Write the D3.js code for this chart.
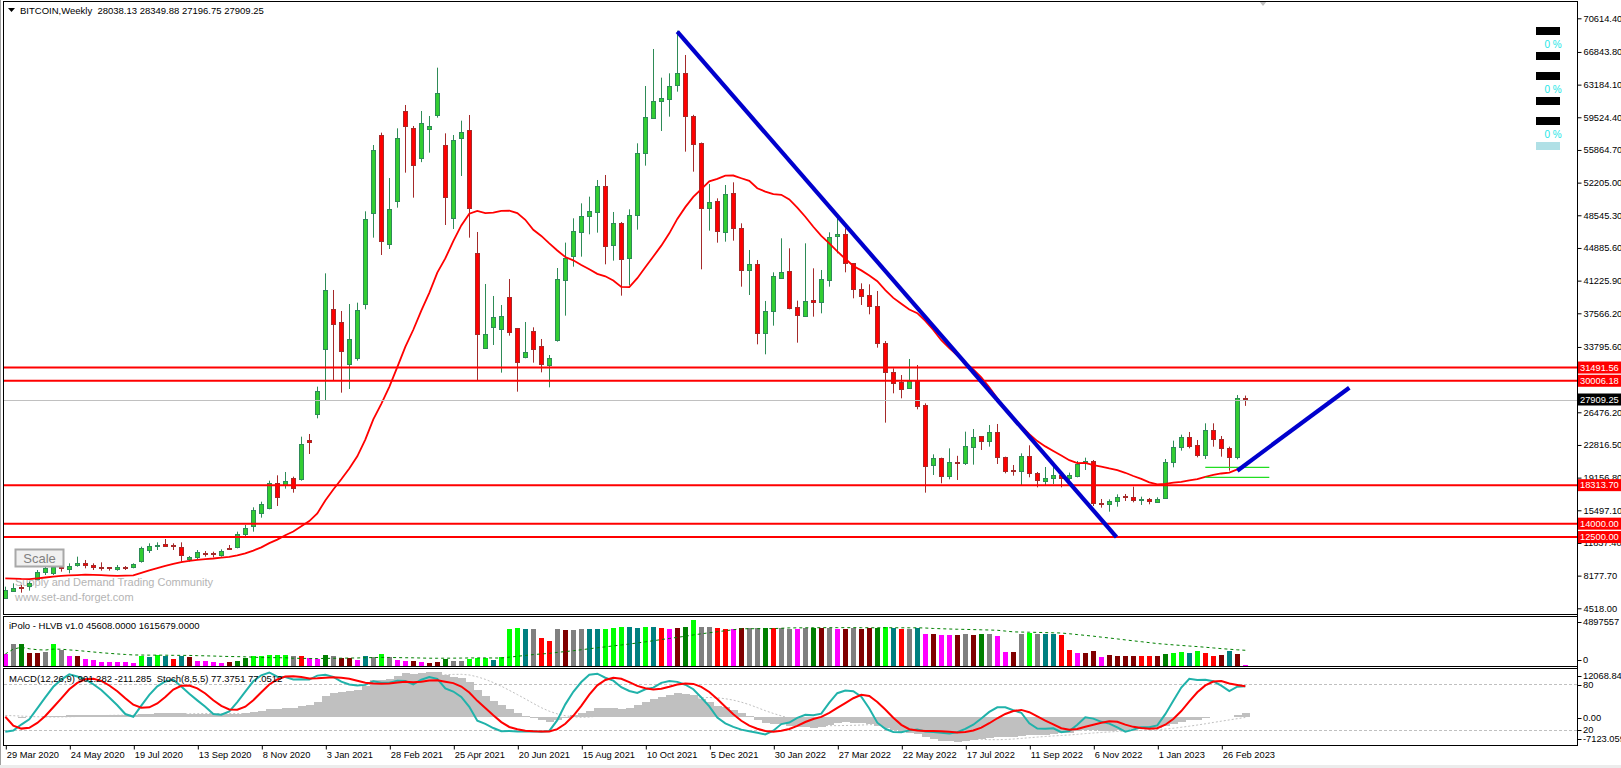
<!DOCTYPE html>
<html><head><meta charset="utf-8"><title>BITCOIN Weekly</title>
<script src="https://cdn.jsdelivr.net/npm/d3@7/dist/d3.min.js"></script>
<style>html,body{margin:0;padding:0;background:#fff;overflow:hidden}svg{display:block}</style>
</head><body>
<svg id="chart" width="1621" height="768" xmlns="http://www.w3.org/2000/svg"></svg>
<script>
// ---------------- DATA (weekly bars from 29 Mar 2020) ----------------
const opens = [5634,6531,6950,6941,7875,8622,8510,9100,8920,9300, 9555,9350,9200,9100,8920,9150,9070,9742,11049,11550,
 11680,11600,11423,10115,10228,10750,10700,10489,11300,11348, 12916,13738,15232,15718,18518,18332,19078,18966,23400,26248,
 33530,38011,36555,31850,32522,38571,48841,57541,45293,50073, 60230,58288,54928,58176,59708,56421,48206,57168,58102,44322,
 33642,35995,35845,39393,35920,32634,35584,33904,31700,34501, 41372,43911,46712,48393,48953,51828,45144,47683,43725,48542,
 55488,59483,61276,61612,63106,64450,59670,56608,49289,50147, 46712,51007,47086,42343,43090,35323,37750,41597,42306,38273,
 37302,39020,38796,41372,46152,46414,43165,40253,39580,38385, 34202,30991,29908,29161,29982,27293,20497,21318,19339,20950,
 20834,22626,23784,23187,24232,21431,20000,19826,21581,19639, 18817,19041,19452,19153,19377,20834,20983,16278,16203,16502,
 17100,16950,16577,16726,16502,16838,20871,22552,23672,22776, 21618,24456,23485,22439,21394,28038.13];
const highs = [6941,7315,7128,7502,8809,9369,9369,9182,9555,10302, 9929,9555,9667,9107,9369,9257,9555,11423,11796,11908,
 12281,11796,11908,10377,11049,10937,10862,11124,11609,13103, 13850,15830,16465,18817,19415,19788,19265,23746,24045,29347,
 42044,40177,37824,38608,38758,48990,56421,57803,52724,58288, 60902,58550,60230,59670,65085,57728,57541,59147,59782,46675,
 40849,39505,38497,41409,35920,36592,35995,34688,32895,42641, 45484,48206,49886,50633,52500,53060,48916,47795,49214,56608,
 63031,67176,63965,64450,69230,66504,59800,56700,52052,50446, 51940,52239,47646,44658,43538,38946,42157,45966,44845,38983,
 45405,42604,42418,46638,48206,47086,43165,40924,40812,40066, 34463,31401,30654,32447,31774,27480,21767,21393,22439,21600,
 24307,24605,23784,25054,25166,21506,20572,21879,22776,19788, 20348,20759,19826,19714,21020,21394,21132,16763,16726,17286,
 17324,18145,17025,16875,16950,21244,23298,23971,24269,23373, 25240,25240,23821,22626,28414,28349.88];
const lows = [5560,6493,6270,6493,7688,8249,8249,8622,8435,9182, 8996,8809,8734,8734,8734,8809,8996,9630,10714,11049,
 11423,11049,9742,9742,10041,10302,10228,10302,11049,11236, 12617,13103,14672,15606,15979,17921,17473,18817,21805,25800,
 27853,30094,28675,29086,32260,38011,46040,44098,44771,49401, 53322,50521,54500,55562,59483,47459,47011,52948,46040,30094,
 33567,34016,30916,35061,28788,32522,32036,30953,29273,34389, 37302,42791,43911,46414,46601,43053,43464,39542,40700,46936,
 54106,59334,57990,59595,62396,55675,53434,42492,46824,45480, 45592,45704,40551,39617,34090,32970,36181,41485,38012,34277,
 37190,37190,37563,40551,44285,42157,39244,38496,37451,33717, 25317,28601,28041,29161,26808,17472,19451,18518,18966,18892,
 20572,20610,22253,22626,20685,19639,19377,18332,19191,18070, 18332,18444,18070,18892,19191,20012,15979,15792,15344,15904,
 16539,16390,16091,16166,16390,16763,20311,22178,22439,21431, 21244,22626,21506,19938,21207,27196.75];
const closes = [6568,6829,6850,7315,8622,9070,9182,8950,9257,9555, 9300,9150,9050,8950,9107,9030,9443,11236,11497,11650,
 11497,11450,10489,10302,10788,10650,10550,10937,11150,12804, 13551,15531,16203,18518,16950,18780,17959,22887,23200,28862,
 40177,36331,33268,34650,37936,48094,55861,45704,49214,57168, 58587,54106,58849,58550,62210,50633,56981,57878,49326,35285,
 35248,37115,37265,35509,32149,33194,33530,31850,32522,41372, 43799,46749,48467,48990,51828,45144,47646,43613,48580,55488,
 59521,61351,61649,63031,64450,59595,56496,49326,49998,46824, 50931,47086,42343,43052,35323,37788,41709,42232,38199,37377,
 38983,38759,41372,46152,46414,43165,40253,39505,38310,34202, 30953,29796,29161,29982,27218,20497,21318,19339,20870,20870,
 22701,23747,23187,24232,21431,19826,19850,21543,19639,18817, 19116,19415,19153,19452,20685,21058,16278,16128,16502,16950,
 17000,16577,16726,16465,16800,20871,22552,23672,22701,21618, 24456,23485,22439,21431,28041,27909.25];
// weekly closes before the first visible bar (indicator warm-up only, not drawn)
const warmupCloses = [7300,7550,7500,7070,7150,7300,7350,8050,8900,8350,9350,9900,9900,9700,8550,8900,5400,6200,6250];

// iPolo HLVB volume (thousands) and colour code per bar
const volumesK = [1158,2151,2217,1224,1224,1390,2217,1588,993,993, 662,563,397,397,331,331,265,927,827,1092,
 927,695,993,827,496,496,397,232,331,496, 728,993,993,1059,1059,1059,993,993,761,662,
 1092,993,761,761,596,993,893,1158,893,596, 496,496,331,298,397,662,496,496,629,761,
 761,596,893,3640,3739,3640,3640,2813,2482,3706, 3574,3574,3706,3706,3706,3706,3805,3872,3872,3805,
 3872,3872,3805,3706,3805,3872,4566,3872,3872,3805, 3706,3706,3805,3805,3805,3805,3805,3805,3706,3706,
 3805,3805,3805,3805,3706,3706,3805,3706,3739,3805, 3905,3805,3706,3706,3805,3210,3144,3077,3077,3077,
 3210,3077,3210,3210,3011,1390,1390,3144,3309,3144, 3210,3210,3077,1588,1257,1224,1423,827,1092,993,
 993,993,993,927,993,1158,1224,1324,1224,1489, 1224,993,1092,1423,1158,45.608];
const volCodes = ["M","G","DG","DR","DR","G","L","G","M","DR", "M","M","M","M","M","M","M","L","T","L",
 "T","R","T","DR","M","M","M","M","DR","DG", "DG","L","L","L","L","L","G","R","M","M",
 "DG","G","DR","DR","M","T","G","L","G","M", "M","DR","M","DR","DR","DG","G","G","L","L",
 "L","T","L","L","L","T","G","R","R","G", "DR","G","G","T","T","L","L","L","T","T",
 "L","T","R","M","DR","DG","L","G","G","R", "R","M","DR","G","G","DG","R","G","G","M",
 "G","DG","DR","G","M","DR","G","DR","DR","DG", "L","T","R","G","T","M","DR","M","M","DR",
 "G","DR","DG","G","M","M","DR","G","L","G", "T","T","R","R","M","DR","DR","M","DR","DR",
 "DR","DR","R","R","DR","DG","L","L","T","L", "R","R","DR","T","DR","M"];

const priceTicks = [70614.40,66843.80,63184.10,59524.40,55864.70,52205.00,48545.30,44885.60,41225.90,37566.20,
 33795.60,26476.20,22816.50,19156.80,15497.10,11837.40,8177.70,4518.00];
const dateTickBars = [0,8,16,24,32,40,48,56,64,72,80,88,96,104,112,120,128,136,144,152];
const dateLabels = ["29 Mar 2020","24 May 2020","19 Jul 2020","13 Sep 2020","8 Nov 2020","3 Jan 2021","28 Feb 2021",
 "25 Apr 2021","20 Jun 2021","15 Aug 2021","10 Oct 2021","5 Dec 2021","30 Jan 2022","27 Mar 2022","22 May 2022",
 "17 Jul 2022","11 Sep 2022","6 Nov 2022","1 Jan 2023","26 Feb 2023"];
const levels = [31491.56,30006.18,18313.70,14000.00,12500.00];
const lastPrice = 27909.25;
const trendDown = [{bar:84,price:69116},{bar:138.9,price:12500}];
const trendUp = [{bar:154,price:19934},{bar:168,price:29222}];
const greenLines = [{from:150,to:158,price:20315},{from:150,to:158,price:19195}];
const titleText = "BITCOIN,Weekly  28038.13 28349.88 27196.75 27909.25";
const volTitle = "iPolo - HLVB v1.0 45608.0000 1615679.0000";
const oscTitle = "MACD(12,26,9) 901.282 -211.285  Stoch(8,5,5) 77.3751 77.0512";

// ---------------- DRAWING ----------------
const FONT = '"Liberation Sans", Arial, sans-serif';
const FS = 9.3;
const palette = {M:"#ff00ff",G:"#808080",DG:"#008000",DR:"#800000",L:"#00ff00",T:"#008080",R:"#ff0000"};
const svg = d3.select('#chart');
const n = closes.length;
const idx = d3.range(n);
const x = d3.scaleLinear().domain([0, n-1]).range([5.3, 5.3 + 8*(n-1)]);
const y = d3.scaleLinear().domain([4518, 70614.4]).range([608.3, 18.3]);
const yV = d3.scaleLinear().domain([0, 4897.557]).range([665.5, 617]);
const yM = d3.scaleLinear().domain([-7123.059, 12068.84]).range([745, 668.5]);
const yS = d3.scaleLinear().domain([0, 100]).range([745, 668.5]);
const cx = i => Math.round(x(i));

svg.append('rect').attr('width',1621).attr('height',768).attr('fill','#fff');
svg.append('rect').attr('x',0).attr('y',765).attr('width',1621).attr('height',3).attr('fill','#ececec');
svg.append('line').attr('x1',0.5).attr('x2',0.5).attr('y1',0).attr('y2',765).attr('stroke','#a0a0a0');

const defs = svg.append('defs');
function clip(id,x0,y0,x1,y1){defs.append('clipPath').attr('id',id).append('rect').attr('x',x0).attr('y',y0).attr('width',x1-x0).attr('height',y1-y0);}
clip('cMain',4,2,1577,614); clip('cVol',4,617,1577,666); clip('cMac',4,669,1577,745);

// indicators computed from the bars
const allC = warmupCloses.concat(closes), allH = warmupCloses.concat(highs), allL = warmupCloses.concat(lows);
const off = warmupCloses.length, N = allC.length;
const ma20 = idx.map(i => d3.mean(allC.slice(i+off-19, i+off+1)));
const ema = (arr,p) => { const a = 2/(p+1), o=[arr[0]]; for (let j=1;j<arr.length;j++) o.push(a*arr[j]+(1-a)*o[j-1]); return o; };
const e12 = ema(allC,12), e26 = ema(allC,26);
const macdAll = allC.map((_,j)=>e12[j]-e26[j]);
const sigAll = macdAll.map((_,j)=>d3.mean(macdAll.slice(Math.max(0,j-8),j+1)));
const LL=[],HH=[],K=[],D=[];
for (let j=0;j<N;j++){const s=Math.max(0,j-7);LL[j]=d3.min(allL.slice(s,j+1));HH[j]=d3.max(allH.slice(s,j+1));}
for (let j=0;j<N;j++){let a=0,b=0;for(let t=Math.max(0,j-4);t<=j;t++){a+=allC[t]-LL[t];b+=HH[t]-LL[t];}K[j]=b>0?100*a/b:50;}
for (let j=0;j<N;j++){D[j]=d3.mean(K.slice(Math.max(0,j-4),j+1));}
const volAvg = idx.map(i => d3.mean(volumesK.slice(Math.max(0,i-29), i+1)));

// ---- main panel ----
const gM = svg.append('g').attr('clip-path','url(#cMain)');
gM.append('text').attr('x',15).attr('y',582).attr('dominant-baseline','central').attr('font-family',FONT).attr('font-size',11).attr('fill','#b4b4b4').text('Supply and Demand Trading Community');
gM.append('text').attr('x',15).attr('y',597).attr('dominant-baseline','central').attr('font-family',FONT).attr('font-size',11).attr('fill','#b4b4b4').text('www.set-and-forget.com');

const up = i => closes[i] >= opens[i];
gM.selectAll('line.wick').data(idx).join('line').attr('class','wick')
  .attr('x1',i=>cx(i)+0.5).attr('x2',i=>cx(i)+0.5).attr('y1',i=>y(highs[i])).attr('y2',i=>y(lows[i]))
  .attr('stroke',i=>up(i)?'#2e8b57':'#a52a2a').attr('stroke-width',1);
gM.selectAll('rect.body').data(idx).join('rect').attr('class','body')
  .attr('x',i=>cx(i)-1.5).attr('width',4)
  .attr('y',i=>Math.round(Math.min(y(opens[i]),y(closes[i])))+0.5)
  .attr('height',i=>Math.max(0.01,Math.round(Math.abs(y(opens[i])-y(closes[i])))))
  .attr('fill',i=>up(i)?'#32cd32':'#ff0000').attr('stroke',i=>up(i)?'#2e8b57':'#a52a2a').attr('stroke-width',1);

gM.append('path').datum(idx).attr('d',d3.line().x(i=>x(i)).y(i=>y(ma20[i])))
  .attr('fill','none').attr('stroke','#ff0000').attr('stroke-width',1.8);

gM.append('line').attr('x1',4).attr('x2',1577).attr('y1',Math.round(y(lastPrice))+0.5).attr('y2',Math.round(y(lastPrice))+0.5).attr('stroke','#c0c0c0');
gM.selectAll('line.lvl').data(levels).join('line').attr('class','lvl')
  .attr('x1',4).attr('x2',1577).attr('y1',d=>y(d)).attr('y2',d=>y(d)).attr('stroke','#ff0000').attr('stroke-width',2);
gM.selectAll('line.gl').data(greenLines).join('line').attr('class','gl')
  .attr('x1',d=>x(d.from)).attr('x2',d=>x(d.to)).attr('y1',d=>y(d.price)).attr('y2',d=>y(d.price)).attr('stroke','#22dd22').attr('stroke-width',1.3);
const tl = d3.line().x(d=>x(d.bar)).y(d=>y(d.price));
[trendDown,trendUp].forEach(t=>gM.append('path').datum(t).attr('d',tl).attr('fill','none').attr('stroke','#0000cd').attr('stroke-width',4.2));

// Scale button
svg.append('rect').attr('x',15.5).attr('y',549.5).attr('width',48).attr('height',17).attr('fill','#f0f0f0').attr('stroke','#a8a8a8').attr('stroke-width',2);
svg.append('text').attr('x',39.5).attr('y',558.5).attr('text-anchor','middle').attr('dominant-baseline','central').attr('font-family',FONT).attr('font-size',13).attr('fill','#808080').text('Scale');

// top-right widget
const blk = [27,52,72,97,117];
svg.selectAll('rect.blk').data(blk).join('rect').attr('class','blk').attr('x',1536).attr('y',d=>d).attr('width',24).attr('height',8).attr('fill','#000');
svg.append('rect').attr('x',1536).attr('y',142).attr('width',24).attr('height',8).attr('fill','#b0e0e6');
svg.selectAll('text.pct').data([44,89,134]).join('text').attr('class','pct').attr('x',1553).attr('y',d=>d)
  .attr('text-anchor','middle').attr('dominant-baseline','central').attr('font-family',FONT).attr('font-size',10).attr('fill','#22e6e6').text('0 %');
svg.append('path').attr('d','M1259,1 L1267,1 L1263,6 Z').attr('fill','#c0c0c0');

// title
svg.append('path').attr('d','M8,8 L15,8 L11.5,12 Z').attr('fill','#000');
svg.append('text').attr('x',20).attr('y',10).attr('dominant-baseline','central').attr('font-family',FONT).attr('font-size',9.5)
  .style('white-space','pre').attr('fill','#000').text(titleText);

// ---- volume panel ----
const gV = svg.append('g').attr('clip-path','url(#cVol)');
gV.selectAll('rect.v').data(idx).join('rect').attr('class','v').attr('shape-rendering','crispEdges')
  .attr('x',i=>cx(i)-2).attr('width',5).attr('y',i=>yV(volumesK[i])).attr('height',i=>Math.max(1,yV(0)-yV(volumesK[i])))
  .attr('fill',i=>palette[volCodes[i]]);
gV.append('path').datum(idx).attr('d',d3.line().x(i=>x(i)).y(i=>yV(volAvg[i])))
  .attr('fill','none').attr('stroke','#008000').attr('stroke-width',1).attr('stroke-dasharray','3,3');
svg.append('text').attr('x',9).attr('y',625).attr('dominant-baseline','central').attr('font-family',FONT).attr('font-size',9.5).attr('fill','#000').text(volTitle);

// ---- MACD / Stoch panel ----
const gO = svg.append('g').attr('clip-path','url(#cMac)');
gO.selectAll('rect.h').data(idx).join('rect').attr('class','h').attr('shape-rendering','crispEdges')
  .attr('x',i=>cx(i)-3).attr('width',8)
  .attr('y',i=>Math.min(yM(0),yM(macdAll[i+off]))).attr('height',i=>Math.abs(yM(0)-yM(macdAll[i+off])))
  .attr('fill','#c0c0c0');
gO.append('path').datum(idx).attr('d',d3.line().x(i=>x(i)).y(i=>yM(sigAll[i+off])))
  .attr('fill','none').attr('stroke','#c0c0c0').attr('stroke-width',1).attr('stroke-dasharray','2,2');
gO.selectAll('line.sl').data([80,20]).join('line').attr('class','sl')
  .attr('x1',4).attr('x2',1577).attr('y1',d=>Math.round(yS(d))+0.5).attr('y2',d=>Math.round(yS(d))+0.5)
  .attr('stroke','#c0c0c0').attr('stroke-dasharray','3,2');
gO.append('path').datum(idx).attr('d',d3.line().x(i=>x(i)).y(i=>yS(K[i+off])))
  .attr('fill','none').attr('stroke','#20b2aa').attr('stroke-width',2);
gO.append('path').datum(idx).attr('d',d3.line().x(i=>x(i)).y(i=>yS(D[i+off])))
  .attr('fill','none').attr('stroke','#ff0000').attr('stroke-width',2);
svg.append('text').attr('x',9).attr('y',678).attr('dominant-baseline','central').attr('font-family',FONT).attr('font-size',9.5).attr('fill','#000').style('white-space','pre').text(oscTitle);

// panel frames
[[1.5,614.5],[616.5,666.5],[668.5,745.5]].forEach(([t,b])=>svg.append('rect').attr('x',3.5).attr('y',t).attr('width',1574).attr('height',b-t).attr('fill','none').attr('stroke','#000'));

// ---- right price axis ----
const gAx = svg.append('g').attr('transform','translate(1577.5,0)')
  .call(d3.axisRight(y).tickValues(priceTicks).tickSize(4).tickPadding(2).tickFormat(d3.format('.2f')));
gAx.select('.domain').remove();
gAx.attr('font-family',FONT).attr('font-size',FS);
gAx.selectAll('text').attr('fill','#000');

// level labels
const lab = svg.append('g');
levels.forEach(v=>{
  lab.append('rect').attr('x',1578).attr('y',y(v)-6).attr('width',43).attr('height',12).attr('fill','#ff0000');
  lab.append('text').attr('x',1580).attr('y',y(v)).attr('dominant-baseline','central').attr('font-family',FONT).attr('font-size',FS).attr('fill','#fff').text(d3.format('.2f')(v));
});
lab.append('rect').attr('x',1578).attr('y',y(lastPrice)-6).attr('width',43).attr('height',12).attr('fill','#000');
lab.append('text').attr('x',1580).attr('y',y(lastPrice)).attr('dominant-baseline','central').attr('font-family',FONT).attr('font-size',FS).attr('fill','#fff').text(d3.format('.2f')(lastPrice));

// volume / oscillator axis labels
const sideLabels = [
  {t:'4897557',y:622},{t:'0',y:660},
  {t:'12068.84',y:675.5},{t:'80',y:yS(80)+1},{t:'0.00',y:yM(0)+1},{t:'20',y:yS(20)},{t:'-7123.059',y:739}];
sideLabels.forEach(d=>{
  svg.append('line').attr('x1',1577.5).attr('x2',1581.5).attr('y1',Math.round(d.y)+0.5).attr('y2',Math.round(d.y)+0.5).attr('stroke','#000');
  svg.append('text').attr('x',1583).attr('y',d.y).attr('dominant-baseline','central').attr('font-family',FONT).attr('font-size',FS).attr('fill','#000').text(d.t);
});
svg.append('line').attr('x1',1577.5).attr('x2',1577.5).attr('y1',1).attr('y2',746).attr('stroke','#000');

// ---- date axis ----
const gD = svg.append('g').attr('transform','translate(0,745.5)')
  .call(d3.axisBottom(x).tickValues(dateTickBars).tickSize(4).tickPadding(2).tickFormat((d,i)=>dateLabels[i]));
gD.select('.domain').remove();
gD.attr('font-family',FONT).attr('font-size',FS);
gD.selectAll('.tick line').attr('transform','translate(0.5,0)');
gD.selectAll('text').attr('text-anchor','start').attr('x',1).attr('fill','#000');
</script></body></html>
